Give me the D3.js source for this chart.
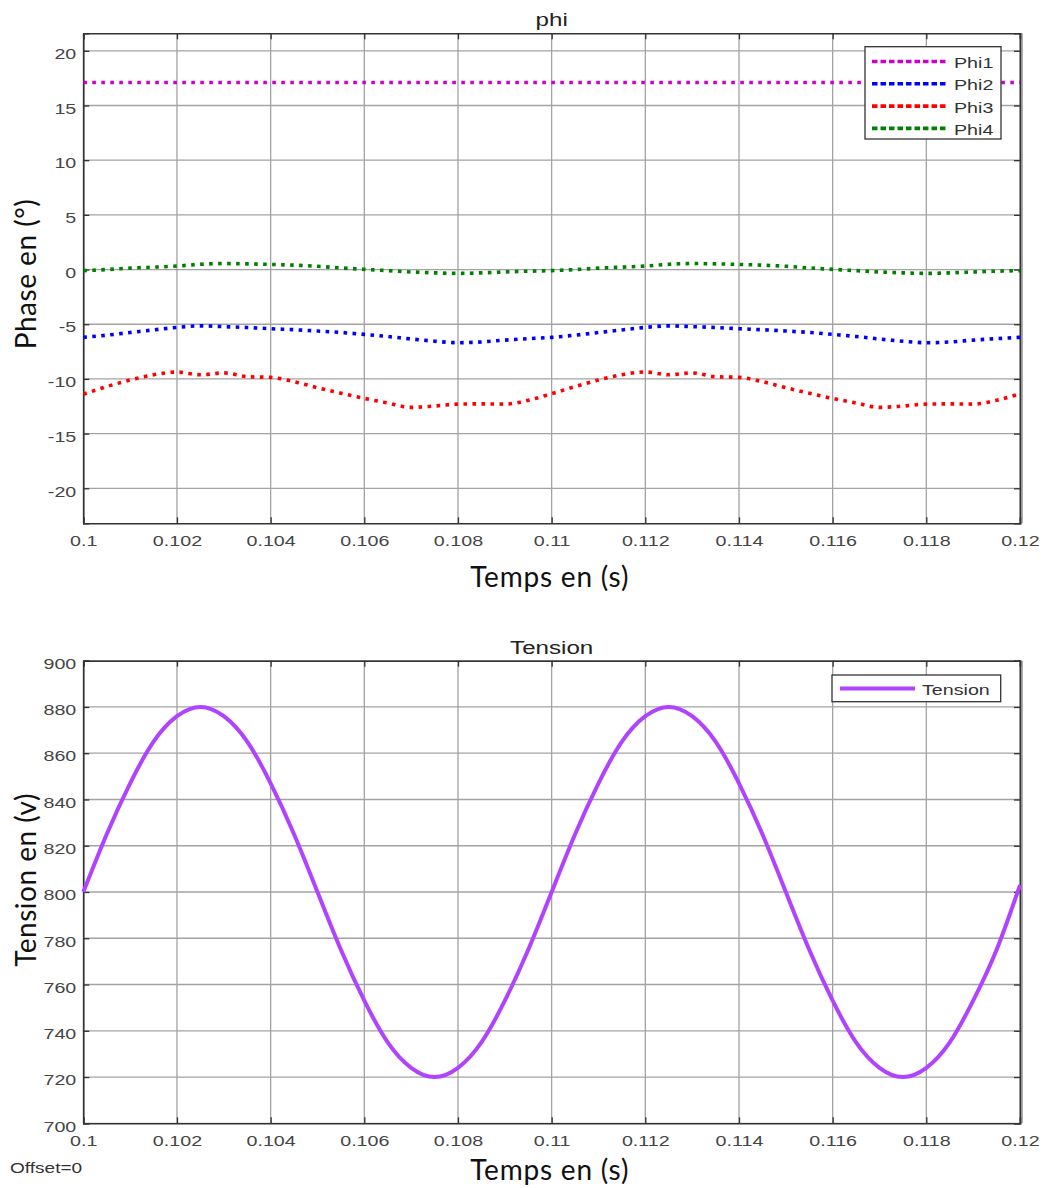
<!DOCTYPE html>
<html><head><meta charset="utf-8">
<script src="https://cdn.jsdelivr.net/npm/d3@7"></script>
<style>
html,body{margin:0;padding:0;background:#fff;}
svg{display:block;}
</style></head>
<body>
<script>
// ---------- DATA ----------
const times = [0.1000,0.1005,0.1010,0.1015,0.1020,0.1025,0.1030,0.1035,0.1040,0.1045,
  0.1050,0.1055,0.1060,0.1065,0.1070,0.1075,0.1080,0.1085,0.1090,0.1095,
  0.1100,0.1105,0.1110,0.1115,0.1120,0.1125,0.1130,0.1135,0.1140,0.1145,
  0.1150,0.1155,0.1160,0.1165,0.1170,0.1175,0.1180,0.1185,0.1190,0.1195,0.1200];
const phi1 = [17.1,17.1,17.1,17.1,17.1,17.1,17.1,17.1,17.1,17.1,17.1,17.1,17.1,17.1,17.1,17.1,17.1,17.1,17.1,17.1,
  17.1,17.1,17.1,17.1,17.1,17.1,17.1,17.1,17.1,17.1,17.1,17.1,17.1,17.1,17.1,17.1,17.1,17.1,17.1,17.1,17.1];
const phi2 = [-6.20,-6.00,-5.76,-5.52,-5.29,-5.15,-5.22,-5.30,-5.41,-5.50,-5.62,-5.75,-5.93,-6.12,-6.35,-6.55,-6.69,-6.62,-6.45,-6.32,
  -6.20,-6.00,-5.76,-5.52,-5.29,-5.15,-5.22,-5.30,-5.41,-5.50,-5.62,-5.75,-5.93,-6.12,-6.35,-6.55,-6.69,-6.62,-6.45,-6.32,-6.20];
const phi3 = [-11.40,-10.70,-10.10,-9.62,-9.37,-9.62,-9.45,-9.80,-9.86,-10.25,-10.80,-11.30,-11.78,-12.20,-12.60,-12.48,-12.30,-12.28,-12.30,-11.95,
  -11.35,-10.70,-10.10,-9.62,-9.37,-9.62,-9.45,-9.80,-9.86,-10.25,-10.80,-11.30,-11.78,-12.20,-12.60,-12.48,-12.30,-12.28,-12.30,-11.95,-11.35];
const phi4 = [-0.10,0.00,0.13,0.22,0.32,0.48,0.55,0.52,0.47,0.40,0.30,0.15,0.02,-0.10,-0.22,-0.30,-0.35,-0.30,-0.22,-0.15,
  -0.10,0.00,0.13,0.22,0.32,0.48,0.55,0.52,0.47,0.40,0.30,0.15,0.02,-0.10,-0.22,-0.30,-0.35,-0.30,-0.22,-0.15,-0.10];
const tension = [800,825,847,865,876,880,876,865,847,825,800,775,753,735,724,720,724,735,753,775,
  800,825,847,865,876,880,876,865,847,825,800,775,753,735,724,720,724,735,753,775,803];
const xTicks = [0.1,0.102,0.104,0.106,0.108,0.11,0.112,0.114,0.116,0.118,0.12];
const xTickLabels = ["0.1","0.102","0.104","0.106","0.108","0.11","0.112","0.114","0.116","0.118","0.12"];
const phiTicks = [-20,-15,-10,-5,0,5,10,15,20];
const phiTickLabels = ["-20","-15","-10","-5","0","5","10","15","20"];
const tensionTicks = [700,720,740,760,780,800,820,840,860,880,900];
const tensionTickLabels = ["700","720","740","760","780","800","820","840","860","880","900"];
const phiNames = ["Phi1","Phi2","Phi3","Phi4"];
const phiColors = ["#cc00cc","#0000ff","#ff0000","#008000"];
const tensionColor = "#b043ff";

// ---------- DRAW ----------
const W = 1044, H = 1188;
const SX = 1.27; // horizontal stretch of the small (Arial-like) texts
const svg = d3.select("body").append("svg").attr("width", W).attr("height", H);
const tickFont = "Liberation Sans, Arial, sans-serif";
const labelFont = "Lato, 'Open Sans', sans-serif";

function stretch(sel, s) {
  sel.each(function() {
    const t = d3.select(this);
    const x = +t.attr("x") || 0, y = +t.attr("y") || 0;
    t.attr("x", 0).attr("y", 0).attr("transform", `translate(${x},${y}) scale(${s},1)`);
  });
}
function stext(x, y, str, size, anchor, fill, weight) {
  const t = svg.append("text").attr("x", x).attr("y", y).attr("text-anchor", anchor)
    .attr("font-family", tickFont).attr("font-size", size).attr("fill", fill)
    .attr("font-weight", weight || "normal").attr("dy", "0.36em").text(str);
  stretch(t, SX);
  return t;
}

function panel(opt) {
  const x = d3.scaleLinear().domain([0.1, 0.12]).range([opt.left, opt.right]);
  const y = d3.scaleLinear().domain(opt.ydom).range([opt.bottom, opt.top]);
  const g = svg.append("g");
  g.append("g").selectAll("line").data(xTicks).join("line")
    .attr("x1", d => x(d)).attr("x2", d => x(d)).attr("y1", opt.top).attr("y2", opt.bottom)
    .attr("stroke", "#a3a3a3").attr("stroke-width", 1.3);
  g.append("g").selectAll("line").data(opt.yticks).join("line")
    .attr("y1", d => y(d)).attr("y2", d => y(d)).attr("x1", opt.left).attr("x2", opt.right)
    .attr("stroke", "#a3a3a3").attr("stroke-width", 1.3);
  const ax = d3.axisBottom(x).tickValues(xTicks).tickFormat((d, i) => xTickLabels[i]).tickSize(-6).tickPadding(12);
  const ay = d3.axisLeft(y).tickValues(opt.yticks).tickFormat((d, i) => opt.ylabels[i]).tickSize(-6).tickPadding(7);
  const axT = d3.axisTop(x).tickValues(xTicks).tickFormat("").tickSize(-6);
  const ayR = d3.axisRight(y).tickValues(opt.yticks).tickFormat("").tickSize(-6);
  const gx = g.append("g").attr("transform", `translate(0,${opt.bottom})`).call(ax);
  const gy = g.append("g").attr("transform", `translate(${opt.left},0)`).call(ay);
  g.append("g").attr("transform", `translate(0,${opt.top})`).call(axT);
  g.append("g").attr("transform", `translate(${opt.right},0)`).call(ayR);
  g.selectAll(".domain").attr("stroke", "#333").attr("stroke-width", 1.6);
  g.selectAll(".tick line").attr("stroke", "#333").attr("stroke-width", 1.3);
  g.selectAll(".tick text").attr("font-family", tickFont).attr("font-size", 15.5).attr("fill", "#454545");
  gy.selectAll(".tick text").attr("dy", "0.5em");
  stretch(gx.selectAll(".tick text"), SX);
  stretch(gy.selectAll(".tick text"), SX);
  // extra right frame line (reference shows a doubled right edge)
  g.append("line").attr("x1", opt.right + 2).attr("x2", opt.right + 2)
    .attr("y1", opt.top).attr("y2", opt.bottom).attr("stroke", "#777").attr("stroke-width", 1.2);
  // title
  stext((opt.left + opt.right) / 2, opt.top - 14, opt.title, 19, "middle", "#222", "normal");
  // x label
  svg.append("text").attr("x", (opt.left + opt.right) / 2 - 2).attr("y", opt.xlabY)
    .attr("text-anchor", "middle").attr("font-family", labelFont).attr("font-size", 28)
    .attr("letter-spacing", 0.8).attr("fill", "#111").text("Temps en (s)");
  // y label
  svg.append("text").attr("transform", `translate(36,${opt.ylabY}) rotate(-90)`)
    .attr("text-anchor", "middle").attr("font-family", labelFont).attr("font-size", 28)
    .attr("letter-spacing", 0.5).attr("fill", "#111").text(opt.ylabel);
  return {x, y, g};
}

// --- Top panel ---
const P1 = panel({left: 83.3, right: 1020, top: 33.3, bottom: 523.3, ydom: [-23.2, 21.6],
  yticks: phiTicks, ylabels: phiTickLabels, title: "phi", xlabY: 587, ylabY: 274, ylabel: "Phase en (°)"});
const phiSeries = [phi1, phi2, phi3, phi4];
svg.append("clipPath").attr("id", "c1").append("rect")
  .attr("x", 83.3).attr("y", 33.3).attr("width", 1020 - 83.3).attr("height", 490);
phiSeries.forEach((vals, i) => {
  const line = d3.line().x((d, j) => P1.x(times[j])).y(d => P1.y(d)).curve(d3.curveMonotoneX);
  svg.append("path").datum(vals).attr("d", line).attr("fill", "none")
    .attr("stroke", phiColors[i]).attr("stroke-width", 3.6)
    .attr("stroke-dasharray", "3.6,5.4").attr("clip-path", "url(#c1)");
});
const lg1 = svg.append("g");
lg1.append("rect").attr("x", 865).attr("y", 46.7).attr("width", 136).attr("height", 92.3)
  .attr("fill", "#fff").attr("stroke", "#333").attr("stroke-width", 1.3);
phiNames.forEach((n, i) => {
  const yy = 61.5 + i * 22.3;
  lg1.append("line").attr("x1", 872).attr("x2", 948).attr("y1", yy).attr("y2", yy)
    .attr("stroke", phiColors[i]).attr("stroke-width", 3.6).attr("stroke-dasharray", "5.5,3");
  stext(954, yy + 1, n, 15.5, "start", "#333");
});

// --- Bottom panel ---
const P2 = panel({left: 83.3, right: 1020, top: 660.7, bottom: 1123.3, ydom: [700, 900],
  yticks: tensionTicks, ylabels: tensionTickLabels, title: "Tension", xlabY: 1180, ylabY: 880, ylabel: "Tension en (v)"});
const line2 = d3.line().x((d, j) => P2.x(times[j])).y(d => P2.y(d)).curve(d3.curveNatural);
svg.append("path").datum(tension).attr("d", line2).attr("fill", "none")
  .attr("stroke", tensionColor).attr("stroke-width", 4);
const lg2 = svg.append("g");
lg2.append("rect").attr("x", 832).attr("y", 675).attr("width", 168.7).attr("height", 26.7)
  .attr("fill", "#fff").attr("stroke", "#333").attr("stroke-width", 1.3);
lg2.append("line").attr("x1", 840).attr("x2", 915).attr("y1", 688.5).attr("y2", 688.5)
  .attr("stroke", tensionColor).attr("stroke-width", 4);
stext(922, 689.5, "Tension", 15.5, "start", "#333");

stext(10, 1168, "Offset=0", 15, "start", "#333");
</script>
</body></html>
